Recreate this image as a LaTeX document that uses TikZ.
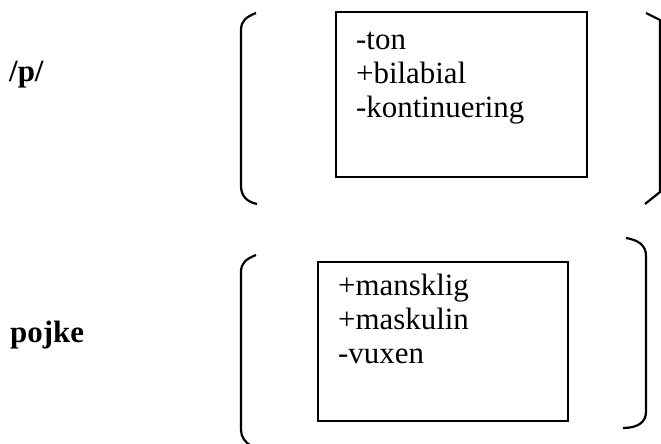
\documentclass[tikz,border=0pt]{standalone}
\usepackage{fontspec}
\setmainfont{Liberation Serif}
\begin{document}
\begin{tikzpicture}[x=1bp,y=-1bp,
  featbox/.style={draw,line width=2bp,inner sep=0pt,outer sep=0pt},
  feats/.style={anchor=north west,align=left,inner sep=0pt,
    font=\fontsize{31}{34}\selectfont},
  lexeme/.style={anchor=base west,inner sep=0pt,
    font=\fontsize{31}{34}\selectfont\bfseries},
  brack/.style={line width=2.2bp,line cap=butt}]
\useasboundingbox (0,0) rectangle (661,444);

% labels
\node[lexeme] (lp) at (9,82) {/p/};
\node[lexeme] (lpojke) at (10,342) {pojke};

% feature boxes
\draw[featbox] (336,12) rectangle (587,177);
\node[feats] (fp) at (356,32) {-ton\\+bilabial\\-kontinuering};

\draw[featbox] (318,262) rectangle (568,421);
\node[feats] (fpojke) at (338,274) {+mansklig\\+maskulin\\-vuxen};

% brackets around /p/
\draw[brack] (256,13) .. controls (246,17) and (241,21) .. (241,30)
  -- (241,186) .. controls (241,196) and (247,202) .. (257,204);
\draw[brack] (646,13) -- (660,20) -- (660,192) -- (645,204);

% brackets around pojke
\draw[brack] (256,255) .. controls (246,259) and (241,263) .. (241,272)
  -- (241,430) .. controls (241,437) and (245,442) .. (251,446);
\draw[brack] (626,238) .. controls (638,240) and (646,245) .. (646,256)
  -- (646,412) .. controls (646,422) and (638,428) .. (623,428);
\end{tikzpicture}
\end{document}
